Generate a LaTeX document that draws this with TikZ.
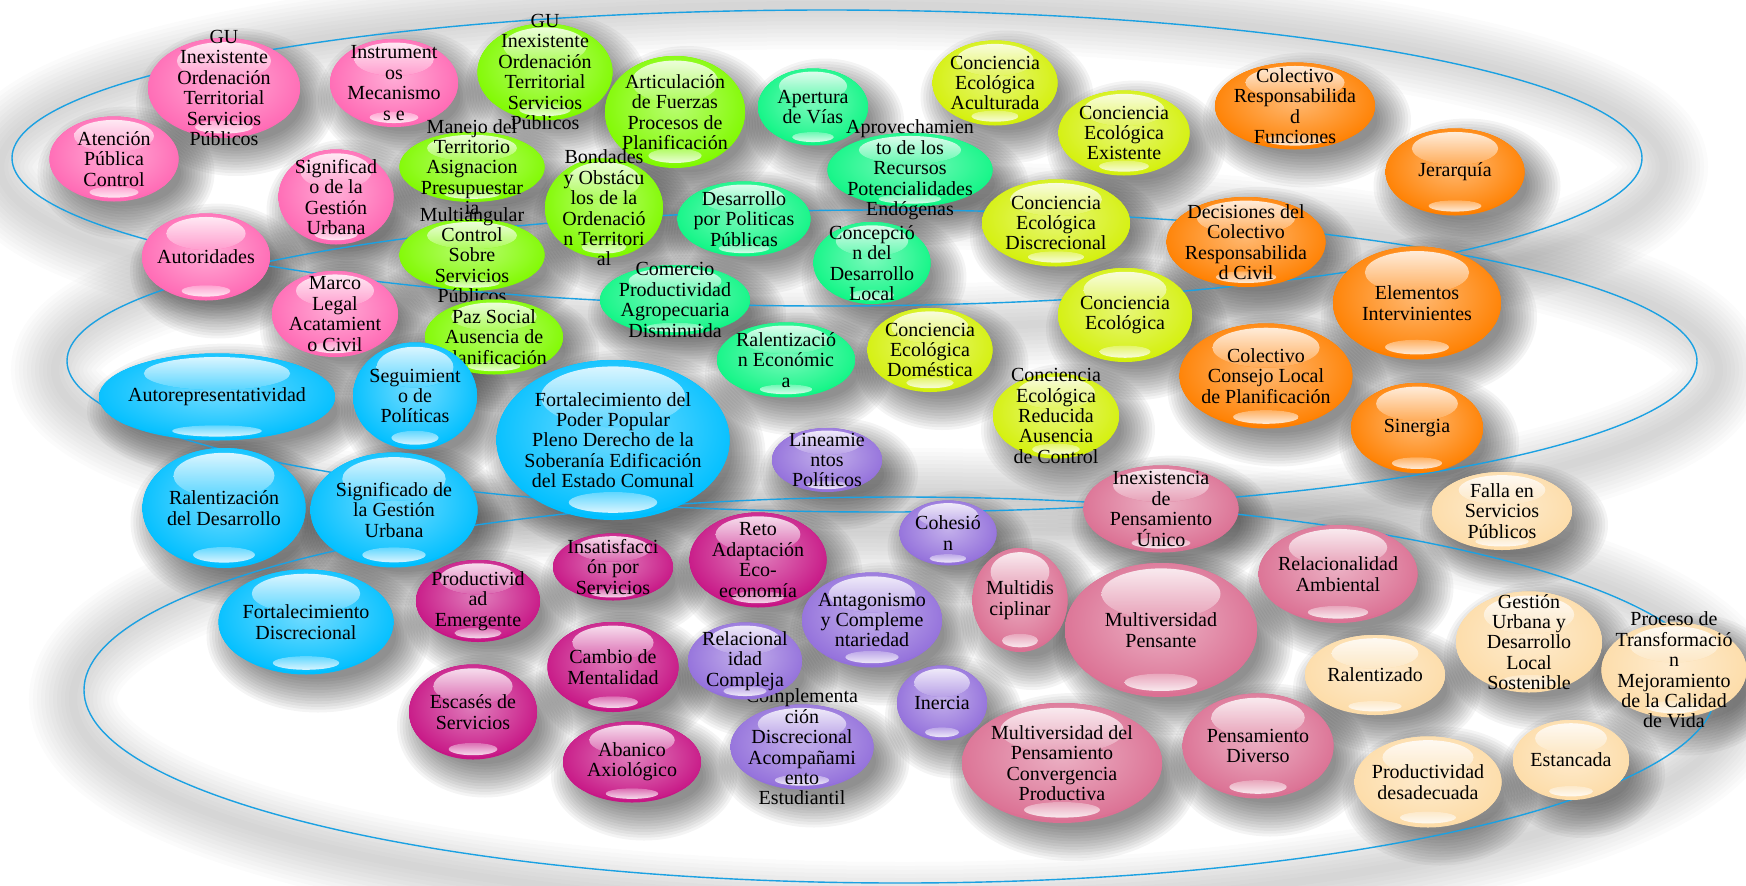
\documentclass[tikz,border=0pt]{standalone}
\usepackage{fontspec}
\setmainfont{Liberation Serif}
\usetikzlibrary{shapes.geometric, calc}

\pgfdeclarelayer{fog}
\pgfdeclarelayer{rings}
\pgfsetlayers{fog,rings,main}

\definecolor{bpink}{HTML}{FF69B4}
\definecolor{blime}{HTML}{80FA00}
\definecolor{bspring}{HTML}{10F585}
\definecolor{byellow}{HTML}{D4F00C}
\definecolor{borange}{HTML}{FF8000}
\definecolor{bsky}{HTML}{00BFFF}
\definecolor{bpurple}{HTML}{9370DB}
\definecolor{bviolet}{HTML}{C71585}
\definecolor{bpale}{HTML}{DB7093}
\definecolor{bpeach}{HTML}{FDDCA8}
\definecolor{ringblue}{HTML}{1BA1E2}

\tikzset{
  bub/.style={ellipse, inner sep=0pt, fill=#1, path picture={
      \fill[inner color=#1!55!white, outer color=#1] let \p1=($(path picture bounding box.north east)-(path picture bounding box.center)$) in
        ([yshift=0.15*\y1]path picture bounding box.center) ellipse [x radius=1.1*\x1, y radius=1.1*\y1];
      \fill[top color=white, bottom color=#1!60!white, fill opacity=.85] let \p1=($(path picture bounding box.north east)-(path picture bounding box.center)$) in
        ([yshift=0.54*\y1]path picture bounding box.center) ellipse [x radius=0.62*\x1, y radius=0.38*\y1];
      \fill[top color=#1!55!white, bottom color=white, fill opacity=.85] let \p1=($(path picture bounding box.north east)-(path picture bounding box.center)$) in
        ([yshift=-0.78*\y1]path picture bounding box.center) ellipse [x radius=0.38*\x1, y radius=0.13*\y1];
    }},
  bsz/.style 2 args={minimum width=#1*0.5pt, minimum height=#2*0.5pt},
  txt/.style={align=center, inner sep=0pt, anchor=center, text=black, font=\fontsize{10}{10.2}\selectfont},
  orbit/.style={draw=ringblue, line width=0.7pt},
  glow/.style={draw=black, opacity=0.015, line width=#1},
  drop/.style={fill=black, opacity=0.045}
}

\begin{document}
\begin{tikzpicture}[x=0.5pt, y=-0.5pt]
\useasboundingbox (0,0) rectangle (1746,885);

% rosa
\node[bub=bpink, bsz={152}{100}, label={[txt]center:GU\\Inexistente\\Ordenación\\Territorial\\Servicios\\Públicos}] (gup) at (224,88) {};
\node[bub=bpink, bsz={129}{85}, label={[txt]center:Atención\\Pública\\Control}] (ate) at (114,159) {};
\node[bub=bpink, bsz={128}{88}, label={[txt]center:Instrument\\os\\Mecanismo\\s e}] (ins) at (394,83) {};
\node[bub=bpink, bsz={115}{95}, label={[txt]center:Significad\\o de la\\Gestión\\Urbana}] (sgp) at (336,197) {};
\node[bub=bpink, bsz={128}{87}, label={[txt]center:Autoridades}] (aut) at (206,257) {};
\node[bub=bpink, bsz={126}{86}, label={[txt]center:Marco\\Legal\\Acatamient\\o Civil}] (mar) at (335,314) {};

% verde
\node[bub=blime, bsz={135}{97}, label={[txt]center:GU\\Inexistente\\Ordenación\\Territorial\\Servicios\\Públicos}] (gul) at (545,72) {};
\node[bub=blime, bsz={140}{112}, label={[txt]center:Articulación\\de Fuerzas\\Procesos de\\Planificación}] (art) at (675,112) {};
\node[bub=blime, bsz={145}{70}, label={[txt]center:Manejo del\\Territorio\\Asignacion\\Presupuestar\\ia}] (man) at (472,167) {};
\node[bub=blime, bsz={118}{100}, label={[txt]center:Bondades\\y Obstácu\\los de la\\Ordenació\\n Territori\\al}] (bon) at (604,208) {};
\node[bub=blime, bsz={145}{72}, label={[txt]center:Multiangular\\Control\\Sobre\\Servicios\\Públicos}] (mul) at (472,255) {};
\node[bub=blime, bsz={138}{75}, label={[txt]center:Paz Social\\Ausencia de\\Planificación}] (paz) at (494,337) {};

% verde claro
\node[bub=bspring, bsz={110}{77}, label={[txt]center:Apertura\\de Vías}] (ape) at (813,107) {};
\node[bub=bspring, bsz={165}{74}, label={[txt]center:Aprovechamien\\to de los\\Recursos\\Potencialidades\\Endógenas}] (apr) at (910,170) {};
\node[bub=bspring, bsz={133}{75}, label={[txt]center:Desarrollo\\por Politicas\\Públicas}] (des) at (744,219) {};
\node[bub=bspring, bsz={117}{82}, label={[txt]center:Concepció\\n del\\Desarrollo\\Local}] (con) at (872,263) {};
\node[bub=bspring, bsz={150}{70}, label={[txt]center:Comercio\\Productividad\\Agropecuaria\\Disminuida}] (com) at (675,300) {};
\node[bub=bspring, bsz={138}{75}, label={[txt]center:Ralentizació\\n Económic\\a}] (rec) at (786,360) {};

% amarillo
\node[bub=byellow, bsz={125}{85}, label={[txt]center:Conciencia\\Ecológica\\Aculturada}] (acu) at (995,83) {};
\node[bub=byellow, bsz={131}{85}, label={[txt]center:Conciencia\\Ecológica\\Existente}] (exi) at (1124,133) {};
\node[bub=byellow, bsz={148}{87}, label={[txt]center:Conciencia\\Ecológica\\Discrecional}] (dis) at (1056,223) {};
\node[bub=byellow, bsz={134}{94}, label={[txt]center:Conciencia\\Ecológica}] (eco) at (1125,315) {};
\node[bub=byellow, bsz={125}{84}, label={[txt]center:Conciencia\\Ecológica\\Doméstica}] (dom) at (930,350) {};
\node[bub=byellow, bsz={126}{85}, label={[txt]center:Conciencia\\Ecológica\\Reducida\\Ausencia\\de Control}] (red) at (1056,416) {};

% naranja
\node[bub=borange, bsz={160}{87}, label={[txt]center:Colectivo\\Responsabilida\\d\\Funciones}] (cof) at (1295,106) {};
\node[bub=borange, bsz={139}{87}, label={[txt]center:Jerarquía}] (jer) at (1455,172) {};
\node[bub=borange, bsz={159}{90}, label={[txt]center:Decisiones del\\Colectivo\\Responsabilida\\d Civil}] (dec) at (1246,242) {};
\node[bub=borange, bsz={168}{113}, label={[txt]center:Elementos\\Intervinientes}] (ele) at (1417,303) {};
\node[bub=borange, bsz={173}{105}, label={[txt]center:Colectivo\\Consejo Local\\de Planificación}] (ccl) at (1266,376) {};
\node[bub=borange, bsz={132}{90}, label={[txt]center:Sinergia}] (sin) at (1417,428) {};

% azul
\node[bub=bsky, bsz={236}{87}, label={[txt]center:Autorepresentatividad}] (atr) at (217,397) {};
\node[bub=bsky, bsz={124}{107}, label={[txt]center:Seguimient\\o de\\Políticas}] (seg) at (415,396) {};
\node[bub=bsky, bsz={233}{160}, label={[txt]center:Fortalecimiento del\\Poder Popular\\Pleno Derecho de la\\Soberanía Edificación\\del Estado Comunal}] (fpp) at (613,440) {};
\node[bub=bsky, bsz={163}{120}, label={[txt]center:Ralentización\\del Desarrollo}] (rde) at (224,508) {};
\node[bub=bsky, bsz={167}{115}, label={[txt]center:Significado de\\la Gestión\\Urbana}] (sgb) at (394,510) {};
\node[bub=bsky, bsz={175}{105}, label={[txt]center:Fortalecimiento\\Discrecional}] (fdi) at (306,622) {};

% morado
\node[bub=bpurple, bsz={110}{64}, label={[txt]center:Lineamie\\ntos\\Políticos}] (lin) at (827,460) {};
\node[bub=bpurple, bsz={97}{65}, label={[txt]center:Cohesió\\n}] (coh) at (948,533) {};
\node[bub=bpurple, bsz={140}{95}, label={[txt]center:Antagonismo\\y Compleme\\ntariedad}] (ant) at (872,620) {};
\node[bub=bpurple, bsz={143}{85}, label={[txt]center:Complementa\\ción\\Discrecional\\Acompañami\\ento\\Estudiantil}] (cdi) at (802,747) {};
\node[bub=bpurple, bsz={114}{77}, label={[txt]center:Relacional\\idad\\Compleja}] (rco) at (745,661) {};
\node[bub=bpurple, bsz={90}{75}, label={[txt]center:Inercia}] (ine) at (942,703) {};

% fucsia
\node[bub=bviolet, bsz={120}{67}, label={[txt]center:Insatisfacci\\ón por\\Servicios}] (isa) at (613,567) {};
\node[bub=bviolet, bsz={137}{95}, label={[txt]center:Reto\\Adaptación\\Eco-\\economía}] (ret) at (758,560) {};
\node[bub=bviolet, bsz={124}{82}, label={[txt]center:Productivid\\ad\\Emergente}] (pem) at (478,601) {};
\node[bub=bviolet, bsz={131}{90}, label={[txt]center:Cambio de\\Mentalidad}] (cam) at (613,667) {};
\node[bub=bviolet, bsz={128}{95}, label={[txt]center:Escasés de\\Servicios}] (esc) at (473,712) {};
\node[bub=bviolet, bsz={138}{81}, label={[txt]center:Abanico\\Axiológico}] (aba) at (632,762) {};

% rosa viejo
\node[bub=bpale, bsz={155}{87}, label={[txt]center:Inexistencia\\de\\Pensamiento\\Único}] (ipu) at (1161,509) {};
\node[bub=bpale, bsz={95}{104}, label={[txt]center:Multidis\\ciplinar}] (mdi) at (1020,600) {};
\node[bub=bpale, bsz={192}{134}, label={[txt]center:Multiversidad\\Pensante}] (mpe) at (1161,630) {};
\node[bub=bpale, bsz={159}{98}, label={[txt]center:Relacionalidad\\Ambiental}] (ram) at (1338,574) {};
\node[bub=bpale, bsz={151}{105}, label={[txt]center:Pensamiento\\Diverso}] (pdi) at (1258,746) {};
\node[bub=bpale, bsz={200}{120}, label={[txt]center:Multiversidad del\\Pensamiento\\Convergencia\\Productiva}] (mpc) at (1062,763) {};

% durazno
\node[bub=bpeach, bsz={140}{78}, label={[txt]center:Falla en\\Servicios\\Públicos}] (fsp) at (1502,511) {};
\node[bub=bpeach, bsz={146}{101}, label={[txt]center:Gestión\\Urbana y\\Desarrollo\\Local\\Sostenible}] (gud) at (1529,642) {};
\node[bub=bpeach, bsz={145}{95}, label={[txt]center:Proceso de\\Transformació\\n\\Mejoramiento\\de la Calidad\\de Vida}] (ptr) at (1674,670) {};
\node[bub=bpeach, bsz={140}{80}, label={[txt]center:Ralentizado}] (rlz) at (1375,675) {};
\node[bub=bpeach, bsz={147}{91}, label={[txt]center:Productividad\\desadecuada}] (pds) at (1428,782) {};
\node[bub=bpeach, bsz={116}{80}, label={[txt]center:Estancada}] (est) at (1571,760) {};

% anillos
\begin{pgfonlayer}{rings}
  \draw[orbit] (827,158) ellipse [x radius=815, y radius=148];
  \draw[orbit] (882,361) ellipse [x radius=815, y radius=151];
  \draw[orbit] (900,690) ellipse [x radius=816, y radius=193];
\end{pgfonlayer}

% sombras
\begin{pgfonlayer}{fog}
  \foreach \w in {4,8,...,44} {
    \draw[glow=\w pt] (832,167) ellipse [x radius=832, y radius=162];
    \draw[glow=\w pt] (887,370) ellipse [x radius=832, y radius=165];
    \draw[glow=\w pt] (905,699) ellipse [x radius=832, y radius=207];
  }
  \foreach \nm in {gup,ate,ins,sgp,aut,mar,gul,art,man,bon,mul,paz,ape,apr,des,con,com,rec,
      acu,exi,dis,eco,dom,red,cof,jer,dec,ele,ccl,sin,atr,seg,fpp,rde,sgb,fdi,
      lin,coh,ant,cdi,rco,ine,isa,ret,pem,cam,esc,aba,ipu,mdi,mpe,ram,pdi,mpc,
      fsp,gud,ptr,rlz,pds,est}
    \foreach \k in {0,...,12}
      \fill[drop] let \p1=(\nm.center), \p2=(\nm.east), \p3=(\nm.north) in
        ([shift={(6pt,-7pt)}]\p1) ellipse [x radius=\x2-\x1+1.4pt*\k-5pt, y radius=\y3-\y1+1.4pt*\k-5pt];
\end{pgfonlayer}
\end{tikzpicture}
\end{document}
